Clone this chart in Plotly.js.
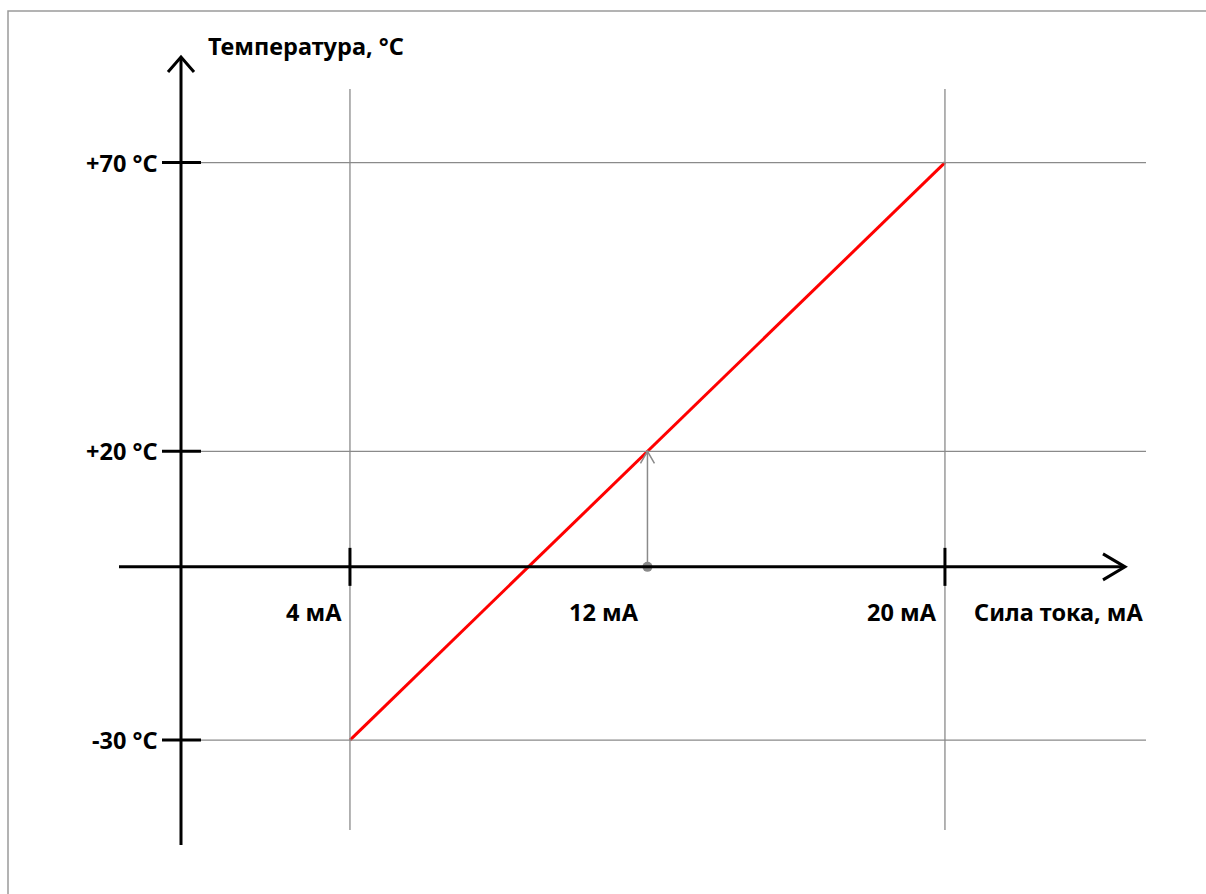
<!DOCTYPE html>
<html>
<head>
<meta charset="utf-8">
<script src="https://cdn.plot.ly/plotly-3.0.1.min.js"></script>
<style>html,body{margin:0;padding:0;background:#fff;}#chart{width:1206px;height:894px;}</style>
</head>
<body>
<div id="chart"></div>
<script>
// ---- data ----
const currents = [4, 12, 20];            // mA
const temps = [-30, 20, 70];             // °C
const currentLabels = ["4 мА", "12 мА", "20 мА"];
const tempLabels = ["-30 °C", "+20 °C", "+70 °C"];
const gridCurrents = [4, 20];            // vertical grid lines / ticks
const markCurrent = 12;                  // highlighted current
const markTemp = 20;                     // its temperature
const xTitle = "Сила тока, мА";
const yTitle = "Температура, °C";

// ---- helpers (page geometry only) ----
const W = 1206, H = 894;
const px = v => v / W;
const py = v => 1 - v / H;
const GRAY = "#8a8a8a";
const FONT = {family: "Noto Sans, sans-serif", size: 23.5, color: "#000"};

const shapes = [];
// outer frame
shapes.push({type: "rect", xref: "paper", yref: "paper", x0: px(8), x1: px(1215), y0: py(11), y1: py(905),
  line: {color: "#9a9a9a", width: 1.5}});
// vertical grid lines
gridCurrents.forEach(c => shapes.push({type: "line", xref: "x", yref: "paper", x0: c, x1: c, y0: py(89), y1: py(830),
  line: {color: GRAY, width: 1.3}}));
// horizontal grid lines
temps.forEach(t => shapes.push({type: "line", xref: "paper", yref: "y", x0: px(201), x1: px(1146), y0: t, y1: t,
  line: {color: GRAY, width: 1.3}}));
// y axis line + arrow
shapes.push({type: "line", xref: "paper", yref: "paper", x0: px(181), x1: px(181), y0: py(845), y1: py(58),
  line: {color: "#000", width: 3}});
shapes.push({type: "path", xref: "paper", yref: "paper",
  path: `M${px(168)},${py(72)} L${px(181)},${py(57)} L${px(194)},${py(72)}`,
  line: {color: "#000", width: 3}});
// x axis line (at 0 °C) + arrow
shapes.push({type: "line", xref: "paper", yref: "y", x0: px(119), x1: px(1124), y0: 0, y1: 0,
  line: {color: "#000", width: 3}});
shapes.push({type: "path", xref: "paper", yref: "y", ysizemode: "pixel", yanchor: 0,
  path: `M${px(1103)},13 L${px(1125)},0 L${px(1103)},-13`,
  line: {color: "#000", width: 3}});
// y ticks
temps.forEach(t => shapes.push({type: "line", xref: "paper", yref: "y", x0: px(162), x1: px(201), y0: t, y1: t,
  line: {color: "#000", width: 3}}));
// x ticks
gridCurrents.forEach(c => shapes.push({type: "line", xref: "x", yref: "y", ysizemode: "pixel", yanchor: 0,
  x0: c, x1: c, y0: -19, y1: 19, line: {color: "#000", width: 3}}));
// chevron of the 12 mA pointer
shapes.push({type: "path", xref: "x", yref: "y", xsizemode: "pixel", ysizemode: "pixel",
  xanchor: markCurrent, yanchor: markTemp, path: "M-7,-12 L0,0 L7,-12",
  line: {color: GRAY, width: 1.5}});

const annotations = [];
temps.forEach((t, i) => annotations.push({xref: "paper", yref: "y", x: px(160), y: t, xanchor: "right", yanchor: "middle",
  text: "<b>" + tempLabels[i] + "</b>", showarrow: false, font: FONT}));
currents.forEach((c, i) => annotations.push({xref: "x", yref: "y", x: c, y: 0, xanchor: "right", yanchor: "middle",
  xshift: -6, yshift: -45, text: "<b>" + currentLabels[i] + "</b>", showarrow: false, font: FONT}));
annotations.push({xref: "paper", yref: "y", x: px(972), y: 0, xanchor: "left", yanchor: "middle", yshift: -45,
  text: "<b>" + xTitle + "</b>", showarrow: false, font: FONT});
annotations.push({xref: "paper", yref: "paper", x: px(206), y: py(46), xanchor: "left", yanchor: "middle",
  text: "<b>" + yTitle + "</b>", showarrow: false, font: FONT});

const traces = [
  {type: "scatter", mode: "lines", x: currents, y: temps, line: {color: "#ff0000", width: 3}, hoverinfo: "skip"},
  {type: "scatter", mode: "lines", x: [markCurrent, markCurrent], y: [0, markTemp], line: {color: GRAY, width: 1.5}, hoverinfo: "skip"},
  {type: "scatter", mode: "markers", x: [markCurrent], y: [0], marker: {color: GRAY, size: 10}, hoverinfo: "skip"}
];

const layout = {
  width: W, height: H,
  margin: {l: 0, r: 0, t: 0, b: 0},
  paper_bgcolor: "#fff", plot_bgcolor: "#fff",
  showlegend: false,
  xaxis: {range: [-5.411, 27.02], visible: false, fixedrange: true},
  yaxis: {range: [-56.65, 98.16], visible: false, fixedrange: true},
  shapes: shapes,
  annotations: annotations
};
Plotly.newPlot("chart", traces, layout, {staticPlot: true, displayModeBar: false});
</script>
</body>
</html>
